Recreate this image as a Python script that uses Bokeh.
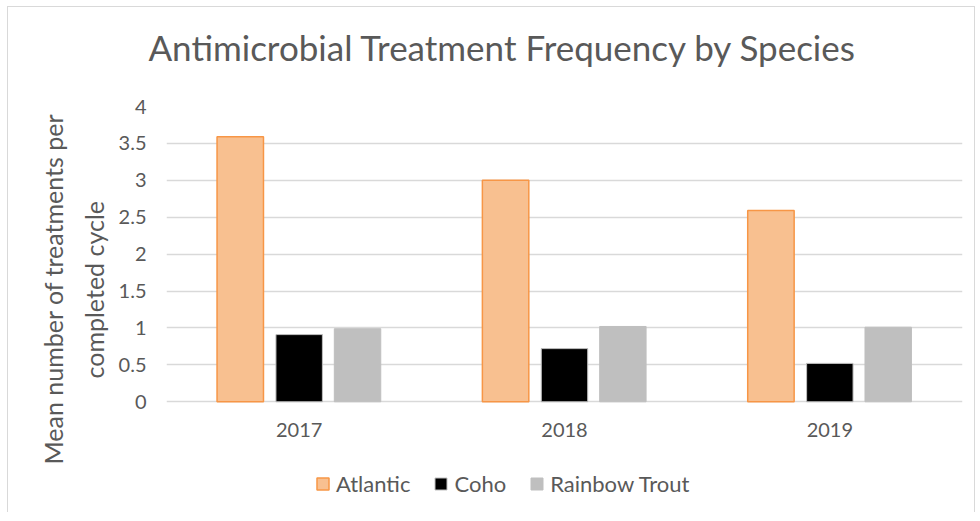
from bokeh.plotting import figure
from bokeh.models import FactorRange, Legend, LegendItem, ColumnDataSource, Range1d, FixedTicker, Title
from bokeh.core.properties import value
from bokeh.transform import dodge
from bokeh.embed import file_html
from bokeh.resources import INLINE

years = ["2017", "2018", "2019"]
atlantic = [3.59, 3.0, 2.59]
coho = [0.91, 0.72, 0.52]
rainbow = [0.99, 1.02, 1.01]
y_ticks = [0, 0.5, 1, 1.5, 2, 2.5, 3, 3.5, 4]
y_label_lines = ["Mean number of treatments per", "completed cycle"]

src = ColumnDataSource(dict(years=years, atlantic=atlantic, coho=coho, rainbow=rainbow,
                            base=[0] * len(years)))

FONT = "Lato"
TXT = "#595959"

# frame extended below zero so that the category labels and legend sit inside it
p = figure(x_range=FactorRange(*years), y_range=Range1d(-1.5, 4),
           frame_width=796, frame_height=406, output_backend="svg", toolbar_location=None,
           min_border_left=158, min_border_right=12, min_border_top=99, min_border_bottom=0)
p.styles = {"border": "1px solid #d9d9d9", "border-bottom": "none",
            "margin-left": "7px", "margin-top": "6px"}

spacer = Title(text=" ", standoff=23, text_font=FONT, text_font_size="10px")
p.add_layout(spacer, "above")
main_title = Title(text="Antimicrobial Treatment Frequency by Species", align="left",
                   offset=-18, standoff=4, text_font=FONT, text_font_size="35px",
                   text_font_style="normal", text_color=TXT)
p.add_layout(main_title, "above")

t2 = Title(text=y_label_lines[1], align="left", offset=134, standoff=14,
           text_font=FONT, text_font_size="25px", text_font_style="normal", text_color=TXT)
t1 = Title(text=y_label_lines[0], align="left", offset=48, standoff=4,
           text_font=FONT, text_font_size="25px", text_font_style="normal", text_color=TXT)
p.add_layout(t2, "left")
p.add_layout(t1, "left")

w = 0.175
r1 = p.vbar(x=dodge("years", -0.222, range=p.x_range), top="atlantic", width=w, source=src,
            fill_color="#F8C090", line_color="#F79646", line_width=1.5)
r2 = p.vbar(x=dodge("years", 0.0, range=p.x_range), top="coho", width=w, source=src,
            fill_color="#000000", line_color="#BFBFBF", line_width=1)
r3 = p.vbar(x=dodge("years", 0.22, range=p.x_range), top="rainbow", width=w, source=src,
            fill_color="#BFBFBF", line_color="#BFBFBF", line_width=1)

# category labels under the zero line
p.text(x="years", y="base", text="years", source=src, text_align="center",
       text_baseline="top", y_offset=21, text_font=value(FONT), text_font_size="20px",
       text_color=TXT)

p.outline_line_color = None
p.xgrid.grid_line_color = None
p.ygrid.grid_line_color = "#D9D9D9"
p.ygrid.grid_line_width = 1.5
p.ygrid.ticker = FixedTicker(ticks=y_ticks)

p.yaxis.ticker = FixedTicker(ticks=y_ticks)
p.yaxis.axis_line_color = None
p.yaxis.major_tick_line_color = None
p.yaxis.minor_tick_line_color = None
p.yaxis.major_label_text_font = FONT
p.yaxis.major_label_text_font_size = "20px"
p.yaxis.major_label_text_color = TXT
p.yaxis.major_label_standoff = 14

p.xaxis.visible = False

legend = Legend(items=[LegendItem(label="Atlantic", renderers=[r1]),
                       LegendItem(label="Coho", renderers=[r2]),
                       LegendItem(label="Rainbow Trout", renderers=[r3])],
                orientation="horizontal", location=(149, 15),
                label_text_font=FONT, label_text_font_size="22px", label_text_color=TXT,
                glyph_width=15, glyph_height=15, label_standoff=6, spacing=23,
                border_line_color=None, background_fill_alpha=0, margin=0, padding=0)
p.add_layout(legend, "center")

open("out.html", "w").write(file_html(p, INLINE))
